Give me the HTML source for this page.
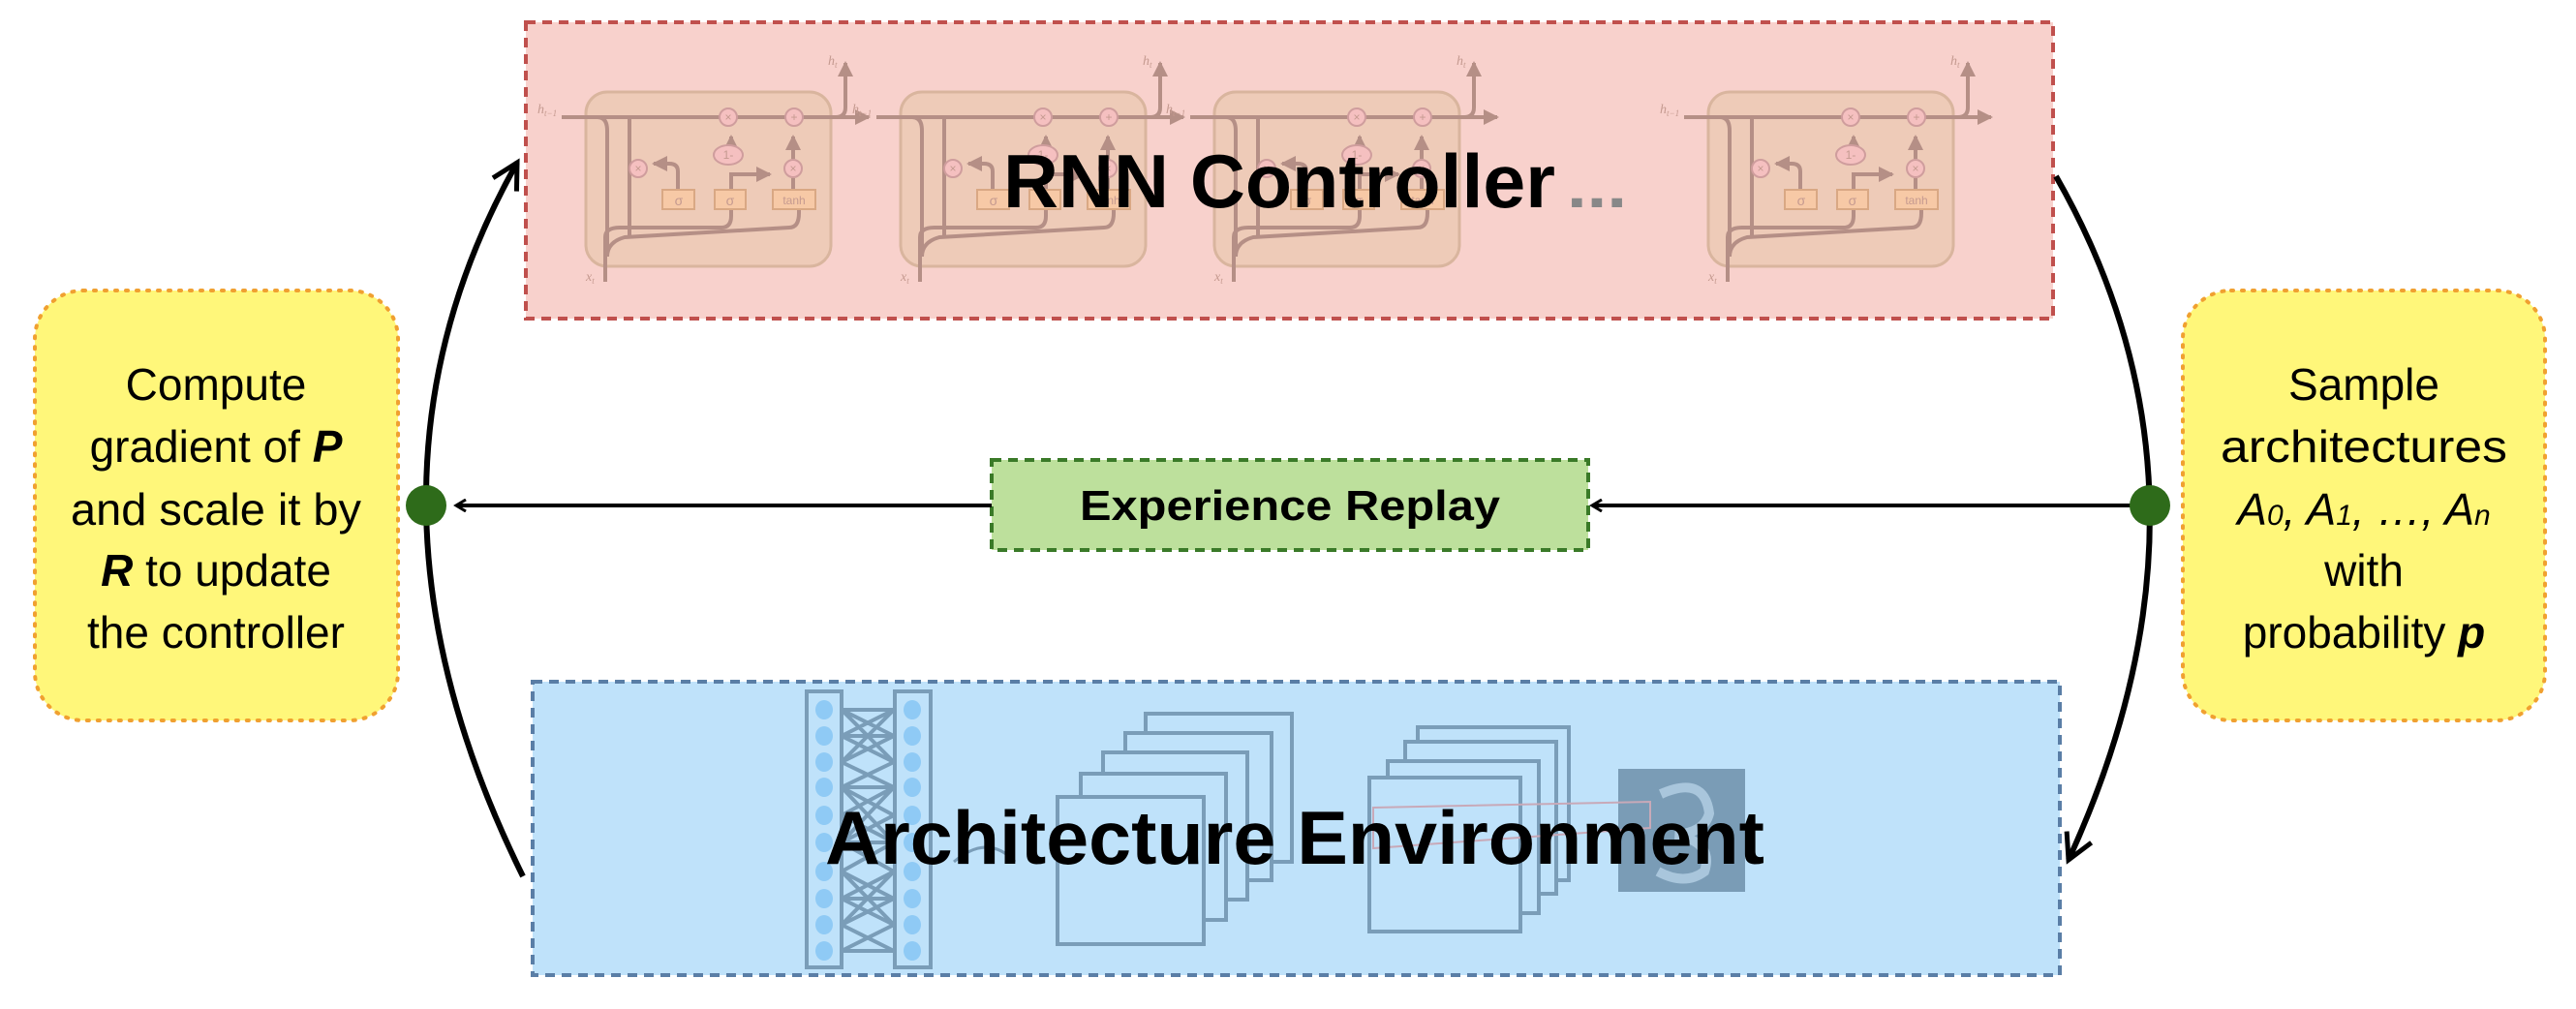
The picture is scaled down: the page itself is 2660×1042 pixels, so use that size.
<!DOCTYPE html>
<html><head><meta charset="utf-8"><style>
html,body{margin:0;padding:0;background:#fff;}
svg{display:block;}
</style></head><body>
<svg width="2660" height="1042" viewBox="0 0 2660 1042" xmlns="http://www.w3.org/2000/svg">
<defs>
<marker id="ah" markerWidth="14" markerHeight="14" refX="11" refY="7" orient="auto" markerUnits="userSpaceOnUse">
<path d="M1,1 L11,7 L1,13" fill="none" stroke="#000" stroke-width="3"/>
</marker>
<marker id="ah2" markerWidth="40" markerHeight="40" refX="30" refY="20" orient="auto" markerUnits="userSpaceOnUse">
<path d="M4,6 L30,20 L4,34" fill="none" stroke="#000" stroke-width="5"/>
</marker>
<marker id="ga" markerWidth="20" markerHeight="20" refX="14" refY="10" orient="auto" markerUnits="userSpaceOnUse">
<path d="M0,2 L16,10 L0,18 z" fill="#b58f86"/>
</marker>
<g id="cell">
<rect x="0" y="0" width="253" height="180" rx="22" fill="#eecbb8" stroke="#d9b59e" stroke-width="3"/>
<g fill="none" stroke="#b58f86" stroke-width="4">
<path d="M-25,26 L292,26" marker-end="url(#ga)"/>
<path d="M258,26 Q268,26 268,16 L268,-30" marker-end="url(#ga)"/>
<path d="M12,26 Q22,26 22,40 L22,170 Q22,155 40,150 L210,140 Q220,140 220,125 L220,121"/>
<path d="M20,196 L20,150 Q20,140 35,140 L140,140 Q150,140 150,128 L150,121"/>
<path d="M45,26 L45,150"/>
<path d="M95,101 L95,82 Q95,74 86,74 L70,74" marker-end="url(#ga)"/>
<path d="M150,101 L150,85 L190,85" marker-end="url(#ga)"/>
<path d="M150,75 L150,46" marker-end="url(#ga)"/>
<path d="M214,69 L214,46" marker-end="url(#ga)"/>
<path d="M214,101 L214,89"/>
</g>
<g fill="#f5c0c0" stroke="#cf9d9d" stroke-width="2">
<circle cx="147" cy="26" r="9"/><circle cx="215" cy="26" r="9"/>
<circle cx="54" cy="79" r="9"/><circle cx="214" cy="79" r="9"/>
<ellipse cx="147" cy="65" rx="15" ry="10"/>
</g>
<g font-family="Liberation Sans, sans-serif" fill="#c59a90" font-size="12" text-anchor="middle">
<text x="147" y="30">×</text><text x="215" y="30">+</text><text x="54" y="83">×</text><text x="214" y="83">×</text><text x="147" y="69">1-</text>
</g>
<g fill="#f7c9a6" stroke="#d9a884" stroke-width="2">
<rect x="79" y="101" width="33" height="20"/><rect x="133" y="101" width="32" height="20"/><rect x="193" y="101" width="44" height="20"/>
</g>
<g font-family="Liberation Sans, sans-serif" fill="#c59a90" font-size="14" text-anchor="middle">
<text x="96" y="117">σ</text><text x="149" y="117">σ</text><text x="215" y="116" font-size="12">tanh</text>
</g>
<g font-family="Liberation Serif, serif" font-style="italic" fill="#c59a90" font-size="14">
<text x="-50" y="22">h<tspan font-size="9" dy="3">t−1</tspan></text>
<text x="250" y="-28">h<tspan font-size="9" dy="3">t</tspan></text>
<text x="0" y="195">x<tspan font-size="9" dy="3">t</tspan></text>
</g>
</g>
</defs>

<rect x="543" y="23" width="1577" height="306" fill="#f8d1cc" stroke="#c0504d" stroke-width="4" stroke-dasharray="10,7"/>
<use href="#cell" x="605" y="95"/>
<use href="#cell" x="930" y="95"/>
<use href="#cell" x="1254" y="95"/>
<use href="#cell" x="1764" y="95"/>
<text x="1036" y="214" font-family="Liberation Sans, sans-serif" font-weight="bold" font-size="78" fill="#000" textLength="570" lengthAdjust="spacingAndGlyphs">RNN Controller</text>
<text x="1618" y="214" font-family="Liberation Sans, sans-serif" font-weight="bold" font-size="62" fill="#888" textLength="62" lengthAdjust="spacingAndGlyphs">...</text>

<rect x="550" y="704" width="1577" height="303" fill="#bfe2fa" stroke="#5a7ea6" stroke-width="4" stroke-dasharray="10,7"/>
<g fill="none" stroke="#7a9db8" stroke-width="4">
<rect x="833" y="714" width="36" height="285"/>
<rect x="924" y="714" width="37" height="285"/>
<path d="M869,733 L923,760 M869,760 L923,733 M869,760 L923,787 M869,787 L923,760 M869,787 L923,813 M869,813 L923,787 M869,813 L923,842 M869,842 L923,813 M869,842 L923,870 M869,870 L923,842 M869,870 L923,900 M869,900 L923,870 M869,900 L923,928 M869,928 L923,900 M869,928 L923,955 M869,955 L923,928 M869,955 L923,982 M869,982 L923,955 M869,733 L923,787 M869,787 L923,733 M869,813 L923,870 M869,870 L923,813 M869,900 L923,955 M869,955 L923,900 M869,733 L923,733 M869,982 L923,982 M869,760 L923,760 M869,813 L923,813 M869,870 L923,870 M869,928 L923,928"/>
<rect x="1183" y="737" width="151" height="153"/>
<rect x="1162" y="757" width="151" height="152" fill="#bfe2fa"/>
<rect x="1139" y="777" width="149" height="152" fill="#bfe2fa"/>
<rect x="1116" y="799" width="150" height="151" fill="#bfe2fa"/>
<rect x="1092" y="823" width="151" height="152" fill="#bfe2fa"/>
<rect x="1464" y="751" width="156" height="158"/>
<rect x="1451" y="766" width="156" height="157" fill="#bfe2fa"/>
<rect x="1433" y="786" width="156" height="157" fill="#bfe2fa"/>
<rect x="1414" y="803" width="156" height="159" fill="#bfe2fa"/>
<path d="M985,890 Q1020,860 1048,890" stroke-width="3"/>
</g>
<g fill="#8fcaf5">
<ellipse cx="851" cy="733" rx="9" ry="10"/><ellipse cx="851" cy="760" rx="9" ry="10"/><ellipse cx="851" cy="787" rx="9" ry="10"/><ellipse cx="851" cy="813" rx="9" ry="10"/><ellipse cx="851" cy="842" rx="9" ry="10"/><ellipse cx="851" cy="870" rx="9" ry="10"/><ellipse cx="851" cy="900" rx="9" ry="10"/><ellipse cx="851" cy="928" rx="9" ry="10"/><ellipse cx="851" cy="955" rx="9" ry="10"/><ellipse cx="851" cy="982" rx="9" ry="10"/>
<ellipse cx="942" cy="733" rx="9" ry="10"/><ellipse cx="942" cy="760" rx="9" ry="10"/><ellipse cx="942" cy="787" rx="9" ry="10"/><ellipse cx="942" cy="813" rx="9" ry="10"/><ellipse cx="942" cy="842" rx="9" ry="10"/><ellipse cx="942" cy="870" rx="9" ry="10"/><ellipse cx="942" cy="900" rx="9" ry="10"/><ellipse cx="942" cy="928" rx="9" ry="10"/><ellipse cx="942" cy="955" rx="9" ry="10"/><ellipse cx="942" cy="982" rx="9" ry="10"/>
</g>
<rect x="1671" y="794" width="131" height="127" fill="#7a9cb6"/>
<path d="M1715,820 Q1760,800 1765,840 Q1760,860 1730,862 Q1770,870 1760,900 Q1740,915 1712,900" fill="none" stroke="#a9c6dc" stroke-width="10"/>
<path d="M1418,834 L1704,828 L1704,855 L1418,876 z" fill="none" stroke="#c8a9b8" stroke-width="2"/>
<text x="852" y="892" font-family="Liberation Sans, sans-serif" font-weight="bold" font-size="78" fill="#000" textLength="970" lengthAdjust="spacingAndGlyphs">Architecture Environment</text>

<rect x="1024" y="475" width="616" height="93" fill="#bde09c" stroke="#3a7a28" stroke-width="4" stroke-dasharray="10,7"/>
<text x="1332" y="537" text-anchor="middle" font-family="Liberation Sans, sans-serif" font-weight="bold" font-size="44" fill="#000" textLength="434" lengthAdjust="spacingAndGlyphs">Experience Replay</text>

<rect x="36" y="300" width="375" height="444" rx="50" fill="#fff77a" stroke="#f0a030" stroke-width="4" stroke-dasharray="2,9" stroke-linecap="round"/>
<rect x="2254" y="300" width="374" height="444" rx="50" fill="#fff77a" stroke="#f0a030" stroke-width="4" stroke-dasharray="2,9" stroke-linecap="round"/>
<g font-family="Liberation Sans, sans-serif" font-size="46" fill="#000" text-anchor="middle">
<text x="223" y="413">Compute</text>
<text x="223" y="477">gradient of <tspan font-weight="bold" font-style="italic">P</tspan></text>
<text x="223" y="542" textLength="300" lengthAdjust="spacingAndGlyphs">and scale it by</text>
<text x="223" y="605"><tspan font-weight="bold" font-style="italic">R</tspan> to update</text>
<text x="223" y="669">the controller</text>
<text x="2441" y="413">Sample</text>
<text x="2441" y="477" textLength="296" lengthAdjust="spacingAndGlyphs">architectures</text>
<text x="2441" y="542" font-style="italic">A<tspan font-size="30">0</tspan>, A<tspan font-size="30">1</tspan>, …, A<tspan font-size="30">n</tspan></text>
<text x="2441" y="605">with</text>
<text x="2441" y="669">probability <tspan font-weight="bold" font-style="italic">p</tspan></text>
</g>

<path d="M540,905 Q343,507 534,168" fill="none" stroke="#000" stroke-width="6" marker-end="url(#ah2)"/>
<path d="M2123,182 Q2310,509 2136,888" fill="none" stroke="#000" stroke-width="6" marker-end="url(#ah2)"/>
<line x1="2220" y1="522" x2="1644" y2="522" stroke="#000" stroke-width="4" marker-end="url(#ah)"/>
<line x1="1024" y1="522" x2="471" y2="522" stroke="#000" stroke-width="4" marker-end="url(#ah)"/>
<circle cx="440" cy="522" r="21" fill="#2e6b1a"/>
<circle cx="2220" cy="522" r="21" fill="#2e6b1a"/>
</svg>
</body></html>
